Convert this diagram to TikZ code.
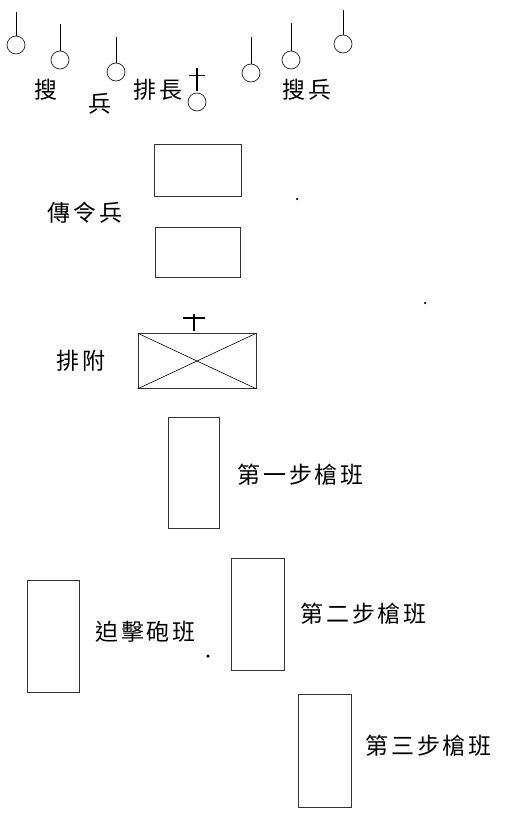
\documentclass[tikz,border=0pt]{standalone}
\usepackage{fontspec}
\newfontfamily\cjk[LetterSpace=12]{Noto Sans CJK TC}
\usetikzlibrary{positioning}
\tikzset{
	man/.style={circle, draw=black!85, line width=0.7pt, minimum size=18pt, inner sep=0pt},
	stick/.style={line width=0.9pt},
	crossmark/.style={line width=1.5pt},
	unitbox/.style={rectangle, draw=black!80, line width=0.6pt, inner sep=0pt},
	lbl/.style={font=\cjk\fontsize{23}{25}\selectfont, inner sep=0pt, anchor=west},
	speck/.style={circle, fill=black, inner sep=0pt, minimum size=2.5pt},
}
\begin{document}
\begin{tikzpicture}[x=1pt, y=-1pt, node distance=16pt]
	\useasboundingbox (0,0) rectangle (507,816);
	% Search soldiers and platoon leader
	\node[man] (m1) at (16,45) {};
	\node[man] (m2) at (60,60) {};
	\node[man] (m3) at (116,72) {};
	\node[man] (lead) at (197,102) {};
	\node[man] (m5) at (251,73) {};
	\node[man] (m6) at (291,60) {};
	\node[man] (m7) at (343,44) {};
	\coordinate (t1) at (16,12); \coordinate (t2) at (60,24); \coordinate (t3) at (116,37);
	\coordinate (t5) at (251,37); \coordinate (t6) at (291,23); \coordinate (t7) at (343,10);
	\draw[stick](t1)--(m1);\draw[stick](t2)--(m2);\draw[stick](t3)--(m3);
	\draw[stick](t5)--(m5);\draw[stick](t6)--(m6);\draw[stick](t7)--(m7);
	\draw[crossmark]([yshift=2pt]lead.north)--([yshift=25pt]lead.north);
	\draw[crossmark]([xshift=-8pt,yshift=17pt]lead.north)--([xshift=8pt,yshift=17pt]lead.north);
	\node[lbl, anchor=center] (sou) at (46,90) {搜};
	\node[lbl, anchor=center] (bing) at (100,104) {兵};
	\node[lbl, anchor=center] (paizhang) at (158,90) {排長};
	\node[lbl, anchor=center] (soubing) at (307,90) {搜兵};
	% Messengers
	\node[unitbox, minimum width=87pt, minimum height=52pt] (msg1) at (198,170) {};
	\node[unitbox, minimum width=85pt, minimum height=50pt] (msg2) at (198,252) {};
	\node[lbl, anchor=center] (msglbl) at (85,213) {傳令兵};
	% Platoon sergeant
	\node[unitbox, minimum width=118pt, minimum height=55pt] (pf) at (197,361) {};
	\draw[line width=0.6pt](pf.north west)--(pf.south east);
	\draw[line width=0.6pt](pf.south west)--(pf.north east);
	\draw[crossmark]([xshift=-3pt,yshift=2pt]pf.north)--([xshift=-3pt,yshift=19pt]pf.north);
	\draw[crossmark]([xshift=-14pt,yshift=15pt]pf.north)--([xshift=8pt,yshift=15pt]pf.north);
	\node[lbl, left=32pt of pf] (pflbl) {排附};
	% Squads
	\node[unitbox, minimum width=51pt, minimum height=111pt] (sq1) at (193.5,472.5) {};
	\node[lbl, right=18pt of sq1, yshift=-2pt] (sq1lbl) {第一步槍班};
	\node[unitbox, minimum width=53pt, minimum height=112pt] (sq2) at (257.5,614) {};
	\node[lbl, right=16pt of sq2] (sq2lbl) {第二步槍班};
	\node[unitbox, minimum width=52pt, minimum height=112pt] (mortar) at (53,636) {};
	\node[lbl, right=16pt of mortar, yshift=4pt] (mortarlbl) {迫擊砲班};
	\node[unitbox, minimum width=53pt, minimum height=113pt] (sq3) at (324.5,750.5) {};
	\node[lbl, right=14pt of sq3, yshift=5pt] (sq3lbl) {第三步槍班};
	% specks
	\node[speck] (d1) at (297,199) {};
	\node[speck] (d2) at (425,303) {};
	\node[speck, minimum size=3.5pt] (d3) at (208,656) {};
\end{tikzpicture}
\end{document}
